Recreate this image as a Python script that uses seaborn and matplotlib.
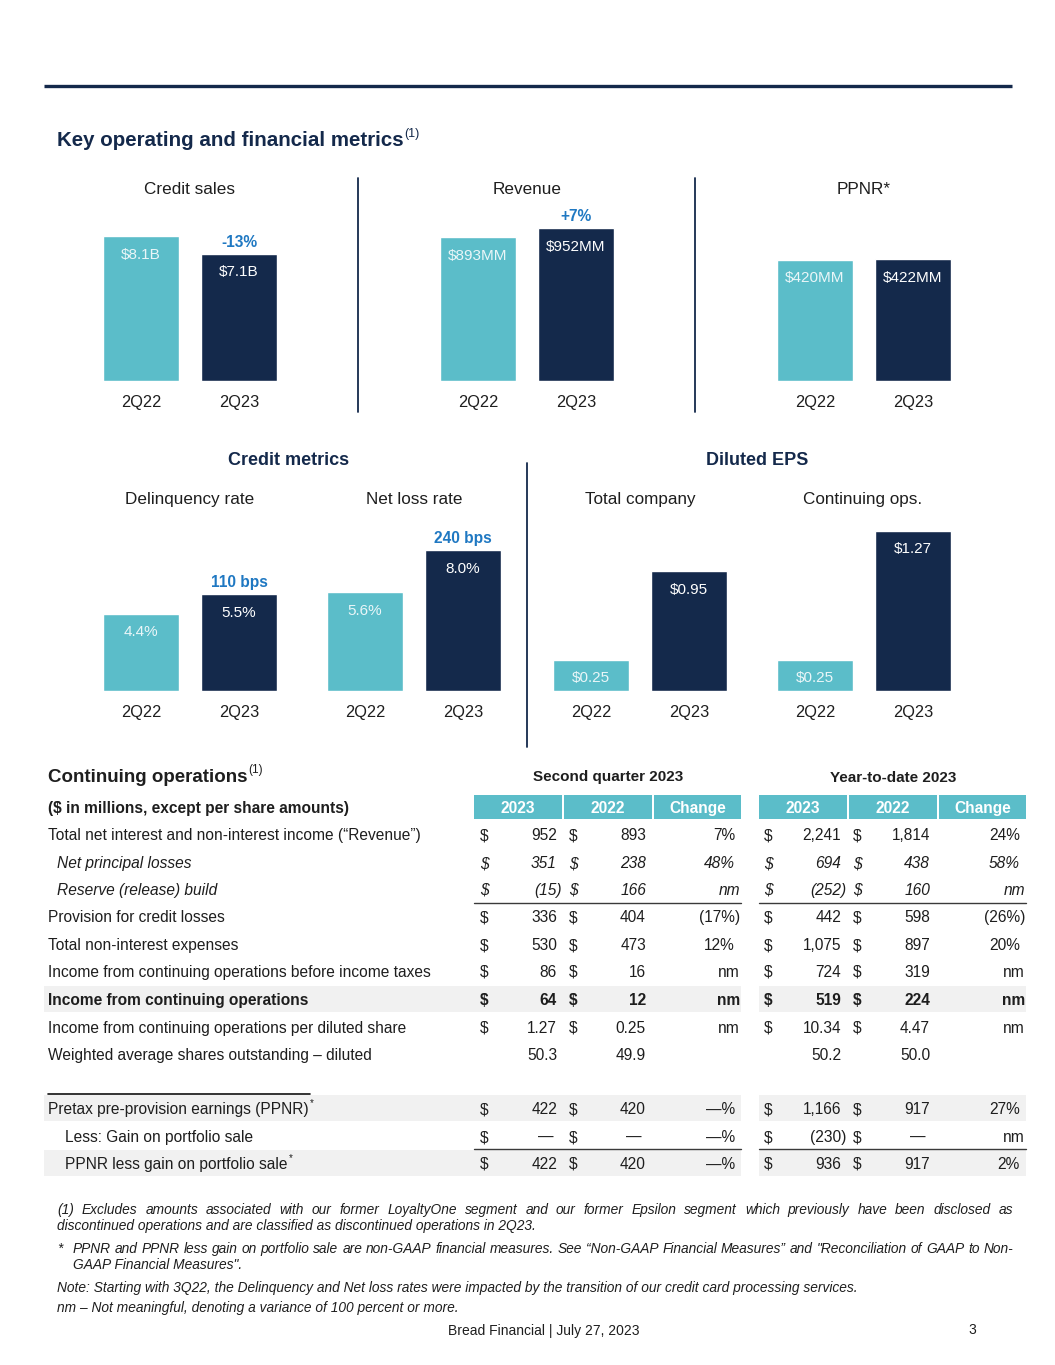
import matplotlib.pyplot as plt
import seaborn as sns

# ---------------- data ----------------
quarters = ["2Q22", "2Q23"]

credit_sales = [8.1, 7.1]
credit_sales_txt = ["$8.1B", "$7.1B"]
revenue = [893, 952]
revenue_txt = ["$893MM", "$952MM"]
ppnr = [420, 422]
ppnr_txt = ["$420MM", "$422MM"]
delinquency = [4.4, 5.5]
delinquency_txt = ["4.4%", "5.5%"]
net_loss = [5.6, 8.0]
net_loss_txt = ["5.6%", "8.0%"]
eps_total = [0.25, 0.95]
eps_total_txt = ["$0.25", "$0.95"]
eps_cont = [0.25, 1.27]
eps_cont_txt = ["$0.25", "$1.27"]

row_labels = ["Total net interest and non-interest income (\u201cRevenue\u201d)",
              "Net principal losses",
              "Reserve (release) build",
              "Provision for credit losses",
              "Total non-interest expenses",
              "Income from continuing operations before income taxes",
              "Income from continuing operations",
              "Income from continuing operations per diluted share",
              "Weighted average shares outstanding \u2013 diluted",
              "Pretax pre-provision earnings (PPNR)",
              "Less: Gain on portfolio sale",
              "PPNR less gain on portfolio sale"]
q2_2023 = ["952", "351", "(15)", "336", "530", "86", "64", "1.27", "50.3", "422", "\u2014", "422"]
q2_2022 = ["893", "238", "166", "404", "473", "16", "12", "0.25", "49.9", "420", "\u2014", "420"]
q2_change = ["7%", "48%", "nm", "(17%)", "12%", "nm", "nm", "nm", "", "\u2014%", "\u2014%", "\u2014%"]
ytd_2023 = ["2,241", "694", "(252)", "442", "1,075", "724", "519", "10.34", "50.2", "1,166", "(230)", "936"]
ytd_2022 = ["1,814", "438", "160", "598", "897", "319", "224", "4.47", "50.0", "917", "\u2014", "917"]
ytd_change = ["24%", "58%", "nm", "(26%)", "20%", "nm", "nm", "nm", "", "27%", "nm", "2%"]
col_heads = ["2023", "2022", "Change"]

note1 = ["(1) Excludes amounts associated with our former LoyaltyOne segment and our former Epsilon segment which previously have been disclosed as",
         "discontinued operations and are classified as discontinued operations in 2Q23."]
note2 = ["PPNR and PPNR less gain on portfolio sale are non-GAAP financial measures. See \u201cNon-GAAP Financial Measures\u201d and \"Reconciliation of GAAP to Non-",
         "GAAP Financial Measures\"."]
note3 = "Note: Starting with 3Q22, the Delinquency and Net loss rates were impacted by the transition of our credit card processing services."
note4 = "nm \u2013 Not meaningful, denoting a variance of 100 percent or more."

# ---------------- style ----------------
TEAL = "#5BBDC9"
NAVY = "#14294B"
BLUE = "#1F78C2"
BLACK = "#1E1E1E"
SHADE = "#F1F1F1"

sns.set_theme(style="white")
plt.rcParams['font.family'] = ['Liberation Sans', 'DejaVu Sans']

W, H = 1055, 1365
fig = plt.figure(figsize=(W / 100, H / 100), dpi=100)
bg = fig.add_axes([0, 0, 1, 1])
bg.set_xlim(0, W)
bg.set_ylim(H, 0)
bg.axis('off')
rend = fig.canvas.get_renderer()
DY = 1.5  # visual centring of text


def txt(x, y, s, **kw):
    kw.setdefault('va', 'center')
    kw.setdefault('color', BLACK)
    return bg.text(x, y + DY, s, **kw)


def wpx(t):
    return t.get_window_extent(rend).width


def sup_after(t, s, size, dy=-7, **kw):
    x0 = t.get_position()[0]
    txt(x0 + wpx(t) + 1, t.get_position()[1] - DY + dy, s, fontsize=size, ha='left', **kw)


def note(x, y, s, **kw):
    # footnote lines sit on a common baseline
    return bg.text(x, y + 4, s, va='baseline', color=BLACK, **kw)


def justify(line, x0, x1, y, **kw):
    words = line.split(' ')
    objs = [note(0, y, w, ha='left', **kw) for w in words]
    widths = [wpx(o) for o in objs]
    gap = (x1 - x0 - sum(widths)) / (len(words) - 1)
    x = x0
    for o, w in zip(objs, widths):
        o.set_x(x)
        x += w + gap


# top rule and heading
bg.plot([44, 1012], [86, 86], color=NAVY, lw=2.4, solid_capstyle='butt')
t = txt(57, 139, "Key operating and financial metrics", fontsize=14.8, fontweight='bold', color=NAVY)
sup_after(t, "(1)", 9, dy=-7, color=NAVY)

# separators
for x, y0, y1 in [(358, 178, 412), (695, 178, 412), (527, 463, 747)]:
    bg.plot([x, x], [y0, y1], color=NAVY, lw=1.3)

# panel titles
for x, y, s in [(190, 188, "Credit sales"), (527, 188, "Revenue"), (864, 188, "PPNR*"),
                (190, 498, "Delinquency rate"), (414, 498, "Net loss rate"),
                (640, 498, "Total company"), (863, 498, "Continuing ops.")]:
    txt(x, y, s, fontsize=12.3, ha='center')
txt(289, 459, "Credit metrics", fontsize=13, fontweight='bold', color=NAVY, ha='center')
txt(757, 459, "Diluted EPS", fontsize=13, fontweight='bold', color=NAVY, ha='center')

# bar panels: values, labels, change, first bar center px, baseline px, px per unit
panels = [
    (credit_sales, credit_sales_txt, "-13%", 141, 381, 17.9),
    (revenue, revenue_txt, "+7%", 478, 381, 0.1607),
    (ppnr, ppnr_txt, None, 815, 381, 0.289),
    (delinquency, delinquency_txt, "110 bps", 141, 691, 17.6),
    (net_loss, net_loss_txt, "240 bps", 365, 691, 17.6),
    (eps_total, eps_total_txt, None, 591, 691, 126),
    (eps_cont, eps_cont_txt, None, 815, 691, 126),
]
AX_H = 200
for vals, lbls, chg, c0, base, scale in panels:
    ax = fig.add_axes([(c0 - 49) / W, 1 - base / H, 196 / W, AX_H / H])
    sns.barplot(x=quarters, y=vals, hue=quarters, palette=[TEAL, NAVY],
                width=76 / 98, saturation=1, legend=False, ax=ax)
    ax.set_xlim(-0.5, 1.5)
    ax.set_ylim(0, AX_H / scale)
    ax.axis('off')
    for i, (v, l) in enumerate(zip(vals, lbls)):
        ax.annotate(l, (i, v), xytext=(0, -18.5), textcoords='offset pixels',
                    ha='center', va='center', fontsize=11,
                    color="#EAF6F8" if i == 0 else "white")
        ax.annotate(quarters[i], (i, 0), xytext=(0, -22), textcoords='offset pixels',
                    ha='center', va='center', fontsize=11.8, color=BLACK,
                    annotation_clip=False)
    if chg:
        ax.annotate(chg, (1, vals[1]), xytext=(0, 11.5), textcoords='offset pixels',
                    ha='center', va='center', fontsize=11.2, fontweight='bold',
                    color=BLUE, annotation_clip=False)

# ---------------- table ----------------
ROW_Y = [834, 862, 889, 916, 944, 971, 999, 1027, 1054, 1108, 1136, 1163]
INDENT = [48, 57, 57, 48, 48, 48, 48, 48, 48, 48, 65, 65]
STYLE = ['normal', 'italic', 'italic'] + ['normal'] * 9
BOLD = [i == 6 for i in range(12)]
FS = 11.2

t = txt(48, 776, "Continuing operations", fontsize=13.5, fontweight='bold')
sup_after(t, "(1)", 8.5, dy=-7)
txt(608, 776, "Second quarter 2023", fontsize=11, fontweight='bold', ha='center')
txt(893, 776, "Year-to-date 2023", fontsize=11, fontweight='bold', ha='center')
txt(48, 807, "($ in millions, except per share amounts)", fontsize=FS, fontweight='bold')

cells = [(474, 562), (564, 652), (654, 741), (759, 847), (849, 937), (939, 1026)]
for k, (a, b) in enumerate(cells):
    bg.add_patch(plt.Rectangle((a, 795), b - a, 24, color=TEAL, lw=0))
    txt((a + b) / 2, 807, col_heads[k % 3], fontsize=FS, fontweight='bold',
        color='white', ha='center')

# shaded rows
for y0, y1 in [(986, 1012), (1095, 1121), (1150, 1176)]:
    bg.add_patch(plt.Rectangle((44, y0), 741 - 44, y1 - y0, color=SHADE, lw=0))
    bg.add_patch(plt.Rectangle((759, y0), 1026 - 759, y1 - y0, color=SHADE, lw=0))

# rules
for y in [903, 1149]:
    bg.plot([474, 741], [y, y], color="#3A3A3A", lw=1)
    bg.plot([759, 1026], [y, y], color="#3A3A3A", lw=1)
bg.plot([48, 310], [1094, 1094], color="#111111", lw=1.2)


def rnum(x, s):
    if s.endswith(')') or s == 'nm':
        return x + 5
    if s == '\u2014':
        return x - 4
    return x


blocks = [(480, 557, 569, 646, 735, q2_2023, q2_2022, q2_change),
          (764, 841, 853, 930, 1020, ytd_2023, ytd_2022, ytd_change)]
for r, lab in enumerate(row_labels):
    y = ROW_Y[r]
    kw = dict(fontsize=FS, fontstyle=STYLE[r], fontweight='bold' if BOLD[r] else 'normal')
    t = txt(INDENT[r], y, lab, **kw)
    if r in (9, 11):
        sup_after(t, "*", 7, dy=-6)
    for d1, v1, d2, v2, ch, a, b, c in blocks:
        if r != 8:
            txt(d1, y, "$", ha='left', **kw)
            txt(d2, y, "$", ha='left', **kw)
        txt(rnum(v1, a[r]), y, a[r], ha='right', **kw)
        txt(rnum(v2, b[r]), y, b[r], ha='right', **kw)
        if c[r]:
            txt(rnum(ch, c[r]), y, c[r], ha='right', **kw)

# ---------------- notes ----------------
NFS = 9.9
justify(note1[0], 57, 1013, 1210, fontsize=NFS, fontstyle='italic')
note(57, 1226, note1[1], fontsize=NFS, fontstyle='italic')
note(57, 1249, "*", fontsize=NFS, fontstyle='italic')
justify(note2[0], 73, 1013, 1249, fontsize=NFS, fontstyle='italic')
note(73, 1265, note2[1], fontsize=NFS, fontstyle='italic')
note(57, 1288, note3, fontsize=NFS, fontstyle='italic')
note(57, 1308, note4, fontsize=NFS, fontstyle='italic')
txt(544, 1329, "Bread Financial | July 27, 2023", fontsize=10, ha='center')
txt(972, 1329, "3", fontsize=10, ha='center')

fig.savefig("out.png", dpi=100)
